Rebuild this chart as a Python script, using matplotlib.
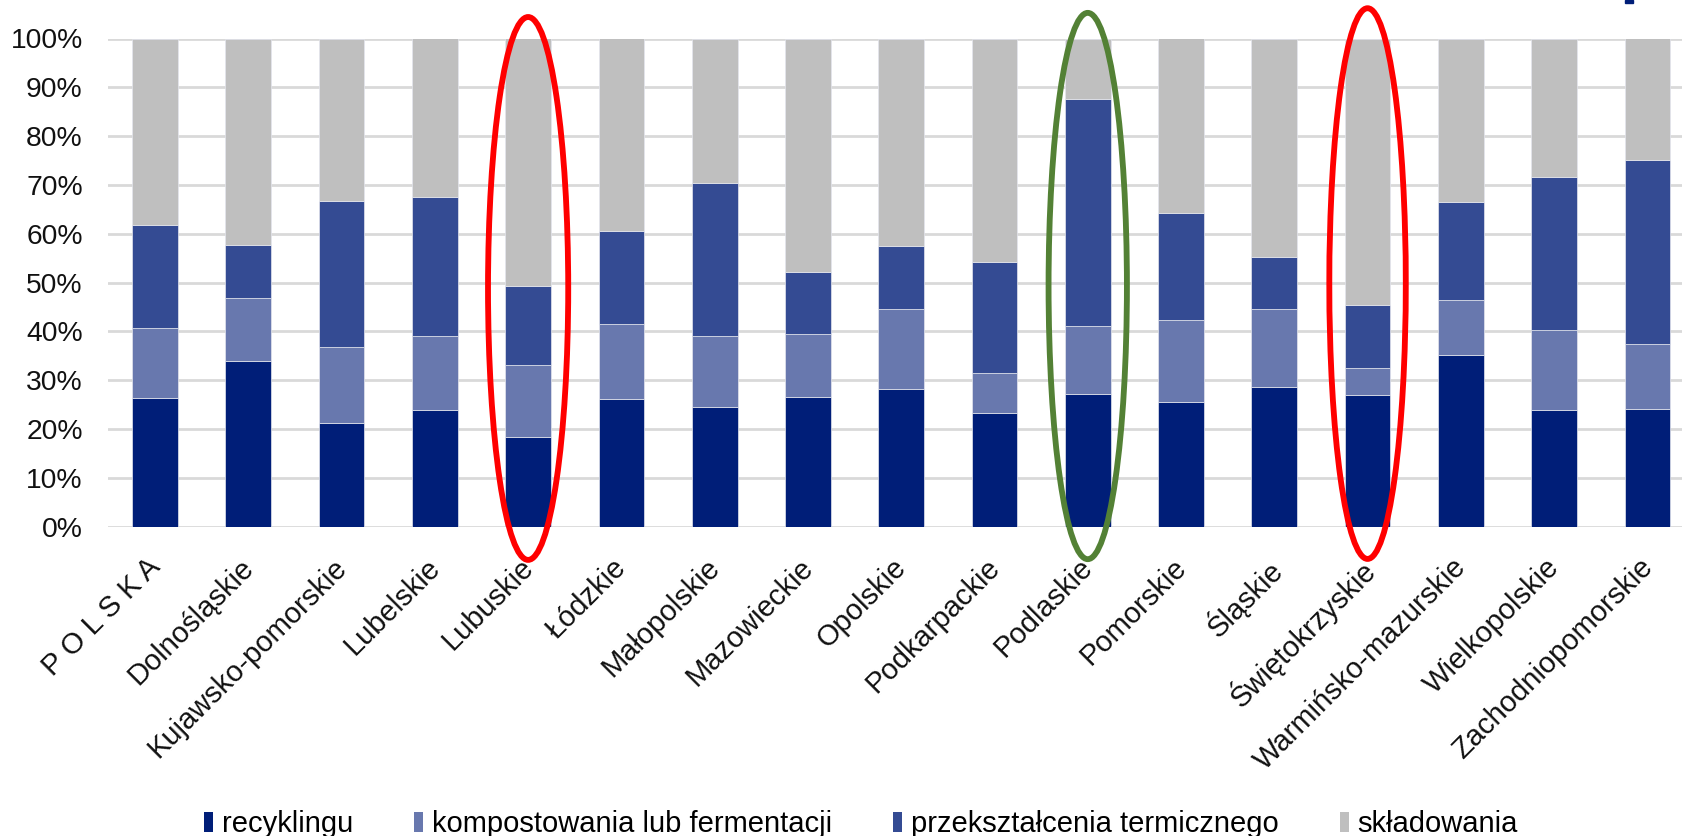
import matplotlib
matplotlib.use("Agg")
import matplotlib.pyplot as plt
from matplotlib.patches import Ellipse, Rectangle, Patch
from matplotlib.transforms import ScaledTranslation
import numpy as np

plt.rcParams['font.family'] = ['Liberation Sans', 'DejaVu Sans']

categories = ["P O L S K A", "Dolnośląskie", "Kujawsko-pomorskie", "Lubelskie", "Lubuskie",
              "Łódzkie", "Małopolskie", "Mazowieckie", "Opolskie", "Podkarpackie", "Podlaskie",
              "Pomorskie", "Śląskie", "Świętokrzyskie", "Warmińsko-mazurskie", "Wielkopolskie",
              "Zachodniopomorskie"]

# cumulative tops (%)
recykling_top = [26.3, 34.0, 21.2, 24.0, 18.3, 26.1, 24.6, 26.6, 28.2, 23.3, 27.2, 25.6, 28.7, 26.9, 35.1, 24.0, 24.2]
kompost_top   = [40.6, 46.9, 36.8, 39.0, 33.2, 41.6, 39.0, 39.5, 44.5, 31.4, 41.1, 42.4, 44.5, 32.5, 46.4, 40.3, 37.4]
termiczne_top = [61.8, 57.7, 66.8, 67.6, 49.3, 60.5, 70.5, 52.2, 57.4, 54.2, 87.6, 64.2, 55.3, 45.5, 66.5, 71.6, 75.2]

recyklingu = np.array(recykling_top)
kompostowania = np.array(kompost_top) - np.array(recykling_top)
przeksztalcenia = np.array(termiczne_top) - np.array(kompost_top)
skladowania = 100 - np.array(termiczne_top)

series_names = ["recyklingu", "kompostowania lub fermentacji", "przekształcenia termicznego", "składowania"]
colors = ["#001E78", "#6878AE", "#344B93", "#BFBFBF"]

W, H = 1682, 836
fig = plt.figure(figsize=(W / 100, H / 100), dpi=100)
ax = fig.add_axes([108.4 / W, 309.3 / H, (1694 - 108.4) / W, (797.5 - 309.3) / H])

x = np.arange(len(categories))
bottom = np.zeros(len(categories))
for vals, name, c in zip([recyklingu, kompostowania, przeksztalcenia, skladowania], series_names, colors):
    ax.bar(x, vals, width=0.49, bottom=bottom, color=c, label=name,
           edgecolor="#E4E6EE", linewidth=0.5, zorder=3)
    bottom = bottom + vals

ax.set_xlim(-0.5, len(categories) - 0.5)
ax.set_ylim(0, 100)
ax.set_yticks(np.arange(0, 101, 10))
ax.set_yticklabels([f"{v}%" for v in range(0, 101, 10)], fontsize=20.3, color="#111111")
ax.yaxis.grid(True, color="#D9D9D9", linewidth=2.0, zorder=0)
ax.set_axisbelow(True)
for s in ax.spines.values():
    s.set_visible(False)
ax.tick_params(axis='y', length=0, pad=18.5)
ax.tick_params(axis='x', length=0, pad=19)
ax.set_xticks(x)
ax.set_xticklabels(categories, fontsize=21, rotation=45, ha='right', va='top',
                   rotation_mode='anchor', color="#111111")
shift = ScaledTranslation(-9 / 100, 0, fig.dpi_scale_trans)
for lbl in ax.get_xticklabels():
    lbl.set_transform(lbl.get_transform() + shift)

# highlight ellipses
ell_specs = [(4, 48.8, 0.86, 111.2, "#FF0000"),
             (10, 49.3, 0.84, 111.9, "#538135"),
             (13, 49.8, 0.82, 112.8, "#FF0000")]
for idx, cy, w, h, col in ell_specs:
    e = Ellipse((idx, cy), w, h, fill=False, edgecolor=col, linewidth=4.2,
                clip_on=False, zorder=5)
    ax.add_patch(e)

# partial decoration at top right (cropped element)
fig.patches.append(Rectangle((1625 / W, 1 - 3 / H), 8 / W, 3 / H, transform=fig.transFigure,
                             color="#001E78", zorder=10))

handles = [Patch(facecolor=c, edgecolor='none') for c in colors]
fig.legend(handles, series_names, loc='center', bbox_to_anchor=(861 / W, 12 / H),
           ncol=4, frameon=False, fontsize=21, handlelength=0.3, handleheight=0.7,
           handletextpad=0.3, columnspacing=2.1, borderaxespad=0, borderpad=0)

fig.savefig("out.png", dpi=100)
